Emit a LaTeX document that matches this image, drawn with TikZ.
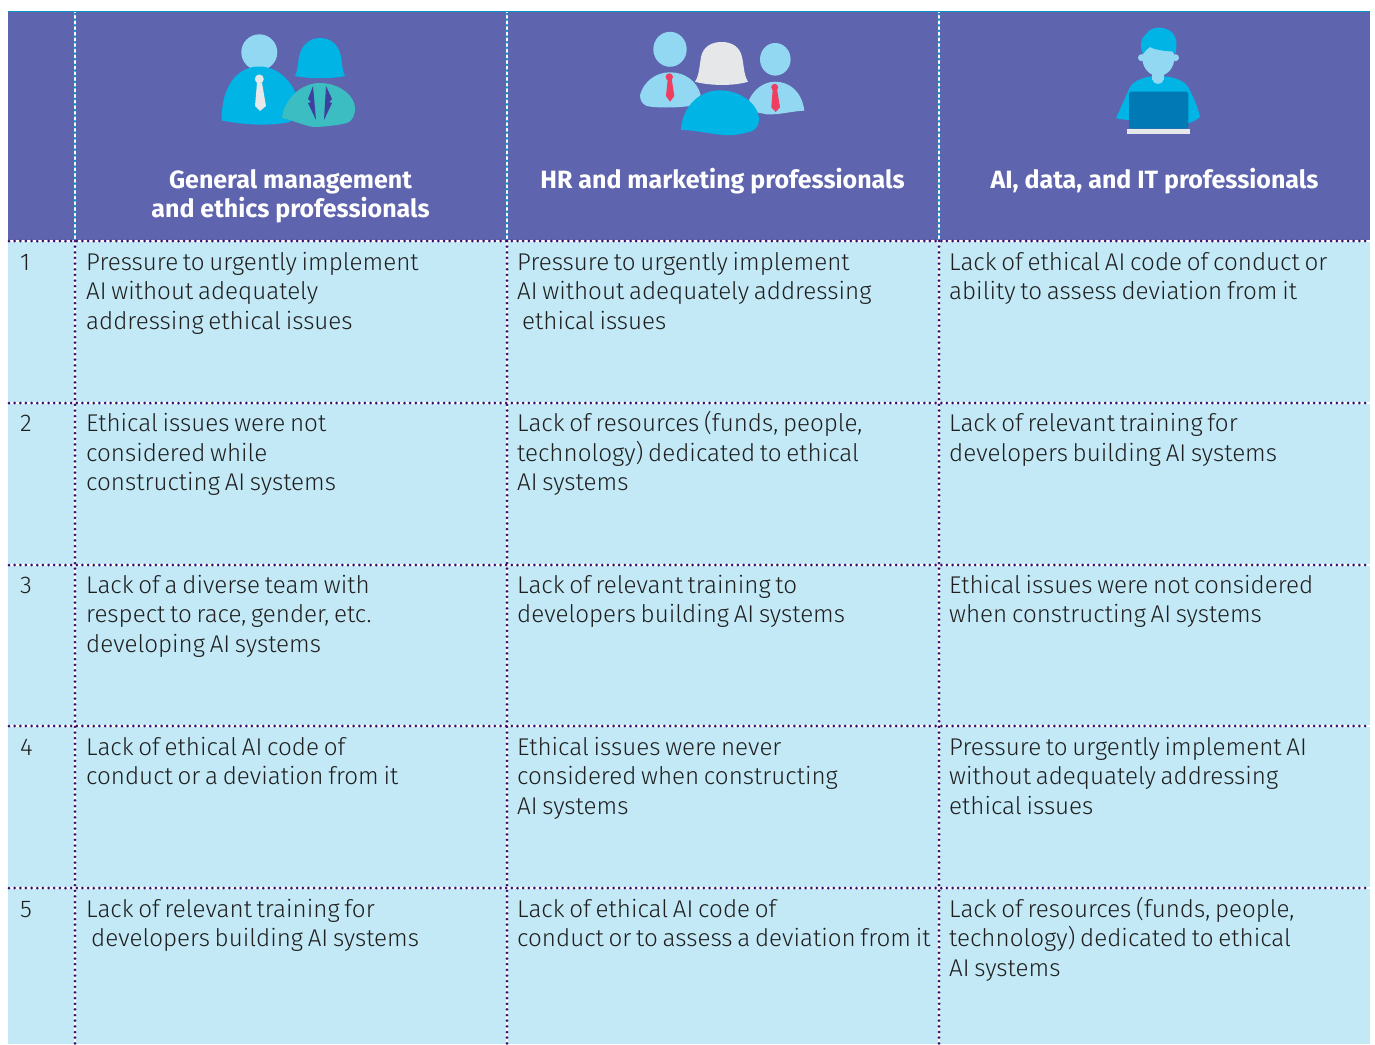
\documentclass[tikz,border=0pt]{standalone}
\usepackage{fontspec}
\setmainfont{Fira Sans}[UprightFont=* Light,BoldFont=* Bold]
\newfontfamily\cellfont{Fira Sans}[UprightFont=* Light,WordSpace=0.7]
\definecolor{headbg}{HTML}{5F64AE}
\definecolor{cellbg}{HTML}{C3E8F6}
\definecolor{dotc}{HTML}{3A0F6B}
\definecolor{iblue}{HTML}{00B5E6}
\definecolor{ilight}{HTML}{92D8F2}
\definecolor{iteal}{HTML}{3CBDC1}
\definecolor{igray}{HTML}{E6E7E8}
\definecolor{ired}{HTML}{EF3E60}
\definecolor{ilapel}{HTML}{3F3FA0}
\definecolor{idark}{HTML}{0079B5}
\definecolor{ihead}{HTML}{0A93C9}
\newcommand{\cellstrut}{\rule{0pt}{20pt}}
\tikzset{
  x=1pt,y=-1pt,
  celltext/.style={anchor=north west,inner sep=0pt,align=left,text=black!88,font=\cellfont\fontsize{24.2}{29.4}\selectfont},
  headtext/.style={anchor=north,inner sep=0pt,align=center,text=white,font=\fontsize{25}{29.2}\selectfont\bfseries},
  dotrule/.style={draw=dotc,line width=3pt,line cap=round,dash pattern=on 0pt off 5.65pt},
  hdotrule/.style={draw=ihead,line width=3pt,line cap=round,dash pattern=on 0pt off 5.65pt},
}
\begin{document}
\begin{tikzpicture}
\useasboundingbox (0,0) rectangle (1375,1044);
\fill[white] (0,0) rectangle (1375,1044);
\fill[headbg] (8,11) rectangle (1370,241);
\fill[cellbg] (8,241) rectangle (1370,1044);
\fill[ihead] (8,10.5) rectangle (1370,12);
\foreach \xx in {75,507,939}{
  \draw[white,line width=2pt] (\xx,12) -- (\xx,241);
  \draw[hdotrule] (\xx,14) -- (\xx,241);
  \draw[white,line width=1.6pt] (\xx,241) -- (\xx,1044);
}
\foreach \yy in {241,403,565,726,888}{
  \draw[white,line width=1.6pt] (8,\yy) -- (1370,\yy);
  \draw[dotrule] (9,\yy) -- (1370,\yy);
}
\foreach \xx in {75,507,939}{
  \draw[dotrule] (\xx,241) -- (\xx,1044);
}
% icon 1
\fill[ilight] (259.3,52.3) circle[radius=18];
\fill[iblue] (221.7,120.5) .. controls (221,90) and (235,66.5) .. (259,66.5) .. controls (280,66.5) and (296,85) .. (299,105) -- (290,122) .. controls (265,127) and (240,124) .. cycle;
\fill[igray] (259.3,79) circle[radius=4.5];
\fill[igray] (257,83) -- (262,83) -- (266,106) -- (260,111) -- (255,106) -- cycle;
\fill[iblue] (295,76) .. controls (297,72) and (298,66) .. (298.5,60) .. controls (300,46) and (309,38) .. (320,38) .. controls (332,38) and (340,46) .. (341.5,60) .. controls (342,66) and (343,72) .. (345,76) .. controls (330,79) and (310,79) .. cycle;
\fill[iteal] (282,118) .. controls (284,100) and (300,83) .. (320,83) .. controls (338,83) and (355,95) .. (355,108) .. controls (355,116) and (352,121) .. (347,123) .. controls (335,126) and (320,127) .. (313,127) .. controls (302,125) and (292,120) .. cycle;
\fill[ilapel] (313,86) -- (308,99) -- (311,102) -- (308,103) -- (316,120) -- cycle;
\fill[ilapel] (326,86) -- (332,99) -- (329,102) -- (332,103) -- (324,120) -- cycle;
% icon 2
\fill[ilight] (670,49.3) ellipse[x radius=16.7,y radius=17.5];
\fill[ilight] (640,95) .. controls (644,81) and (656,72.3) .. (670,72.3) .. controls (685,72.3) and (697,81) .. (700.7,95) -- (690,106) .. controls (675,108) and (655,108) .. (646.7,106) .. controls (642,104) and (640,100) .. cycle;
\fill[ired] (669.3,77) circle[radius=3.7];
\fill[ired] (667.7,79) -- (671.7,79) -- (674.3,96) -- (670,101.7) -- (666,96) -- cycle;
\fill[igray] (695,81.7) .. controls (699,76) and (699.5,66) .. (701,57) .. controls (703,47) and (711,42) .. (721.7,42) .. controls (732,42) and (740,47) .. (742,57) .. controls (744,66) and (744,76) .. (748,81.7) .. controls (735,86) and (710,86) .. cycle;
\fill[ilight] (775.3,59.3) ellipse[x radius=15.3,y radius=16.3];
\fill[ilight] (749,100) .. controls (754,89) and (764,81.7) .. (775,81.7) .. controls (790,81.7) and (802,92) .. (804.3,110.7) .. controls (792,111) and (780,115) .. (766.7,114.3) -- (755,112) -- cycle;
\fill[ired] (774.7,87.3) circle[radius=3.5];
\fill[ired] (772.7,89) -- (777,89) -- (780,107.3) -- (775.7,112) -- (771.3,107.3) -- cycle;
\fill[iblue] (681,130) .. controls (682,108) and (698,90.3) .. (720,90.3) .. controls (740,90.3) and (759,104) .. (759,120) .. controls (759,127) and (754,131) .. (748.3,132.3) .. controls (738,135) and (730,135.5) .. (723.3,135) .. controls (710,134) and (695,130) .. cycle;
% icon 3
\fill[iblue] (1116,118.3) -- (1130,87) .. controls (1134,80) and (1146,76) .. (1158.3,76) .. controls (1172,76) and (1184,80) .. (1188,87) .. controls (1194,98) and (1198,108) .. (1200,116.7) .. controls (1197,120) and (1192,122) .. (1188.3,123.3) -- (1126.7,120) -- cycle;
\fill[ilight] (1152.3,70) rectangle (1163.8,80);
\fill[ilight] (1158,79) ellipse[x radius=5.7,y radius=5];
\fill[ilight] (1158.3,58) ellipse[x radius=16,y radius=18];
\fill[ilight] (1141.5,57.7) circle[radius=3.5];
\fill[ilight] (1175.5,57.7) circle[radius=3.5];
\fill[iblue] (1143,54) .. controls (1139,45) and (1141,38) .. (1146,34) .. controls (1150,28) and (1157,27) .. (1163,28) .. controls (1172,30) and (1177,36) .. (1176.5,46) -- (1175.5,54) -- (1172,51.5) .. controls (1165,51) and (1155,50) .. (1150,47) .. controls (1147,49) and (1145,51) .. cycle;
\fill[idark,rounded corners=1.5pt] (1129,91.7) rectangle (1188.3,128.5);
\fill[igray] (1127,128.7) rectangle (1190,134);
% header text
\node[headtext] (h1) at (290.5,169) {General management\\and ethics professionals};
\node[headtext] (h2) at (722.5,168) {HR and marketing professionals};
\node[headtext] (h3) at (1154.5,168) {AI, data, and IT professionals};
% row 1
\node[celltext] (n1) at (20,250) {\cellstrut 1};
\node[celltext] (a1) at (86,250) {\cellstrut Pressure to urgently implement\\AI without adequately\\addressing ethical issues};
\node[celltext] (b1) at (517,250) {\cellstrut Pressure to urgently implement\\AI without adequately addressing\\\hspace*{5pt}ethical issues};
\node[celltext] (c1) at (949,250) {\cellstrut Lack of ethical AI code of conduct or\\ability to assess deviation from it};
% row 2
\node[celltext] (n2) at (20,411.5) {\cellstrut 2};
\node[celltext] (a2) at (86,411.5) {\cellstrut Ethical issues were not\\considered while\\constructing AI systems};
\node[celltext] (b2) at (517,411.5) {\cellstrut Lack of resources (funds, people,\\technology) dedicated to ethical\\AI systems};
\node[celltext] (c2) at (949,411.5) {\cellstrut Lack of relevant training for\\developers building AI systems};
% row 3
\node[celltext] (n3) at (20,573) {\cellstrut 3};
\node[celltext] (a3) at (86,573) {\cellstrut Lack of a diverse team with\\respect to race, gender, etc.\\developing AI systems};
\node[celltext] (b3) at (517,573) {\cellstrut Lack of relevant training to\\developers building AI systems};
\node[celltext] (c3) at (949,573) {\cellstrut Ethical issues were not considered\\when constructing AI systems};
% row 4
\node[celltext] (n4) at (20,735) {\cellstrut 4};
\node[celltext] (a4) at (86,735) {\cellstrut Lack of ethical AI code of\\conduct or a deviation from it};
\node[celltext] (b4) at (517,735) {\cellstrut Ethical issues were never\\considered when constructing\\AI systems};
\node[celltext] (c4) at (949,735) {\cellstrut Pressure to urgently implement AI\\without adequately addressing\\ethical issues};
% row 5
\node[celltext] (n5) at (20,897) {\cellstrut 5};
\node[celltext] (a5) at (86,897) {\cellstrut Lack of relevant training for\\\hspace*{5pt}developers building AI systems};
\node[celltext] (b5) at (517,897) {\cellstrut Lack of ethical AI code of\\conduct or to assess a deviation from it};
\node[celltext] (c5) at (949,897) {\cellstrut Lack of resources (funds, people,\\technology) dedicated to ethical\\AI systems};
\end{tikzpicture}
\end{document}
